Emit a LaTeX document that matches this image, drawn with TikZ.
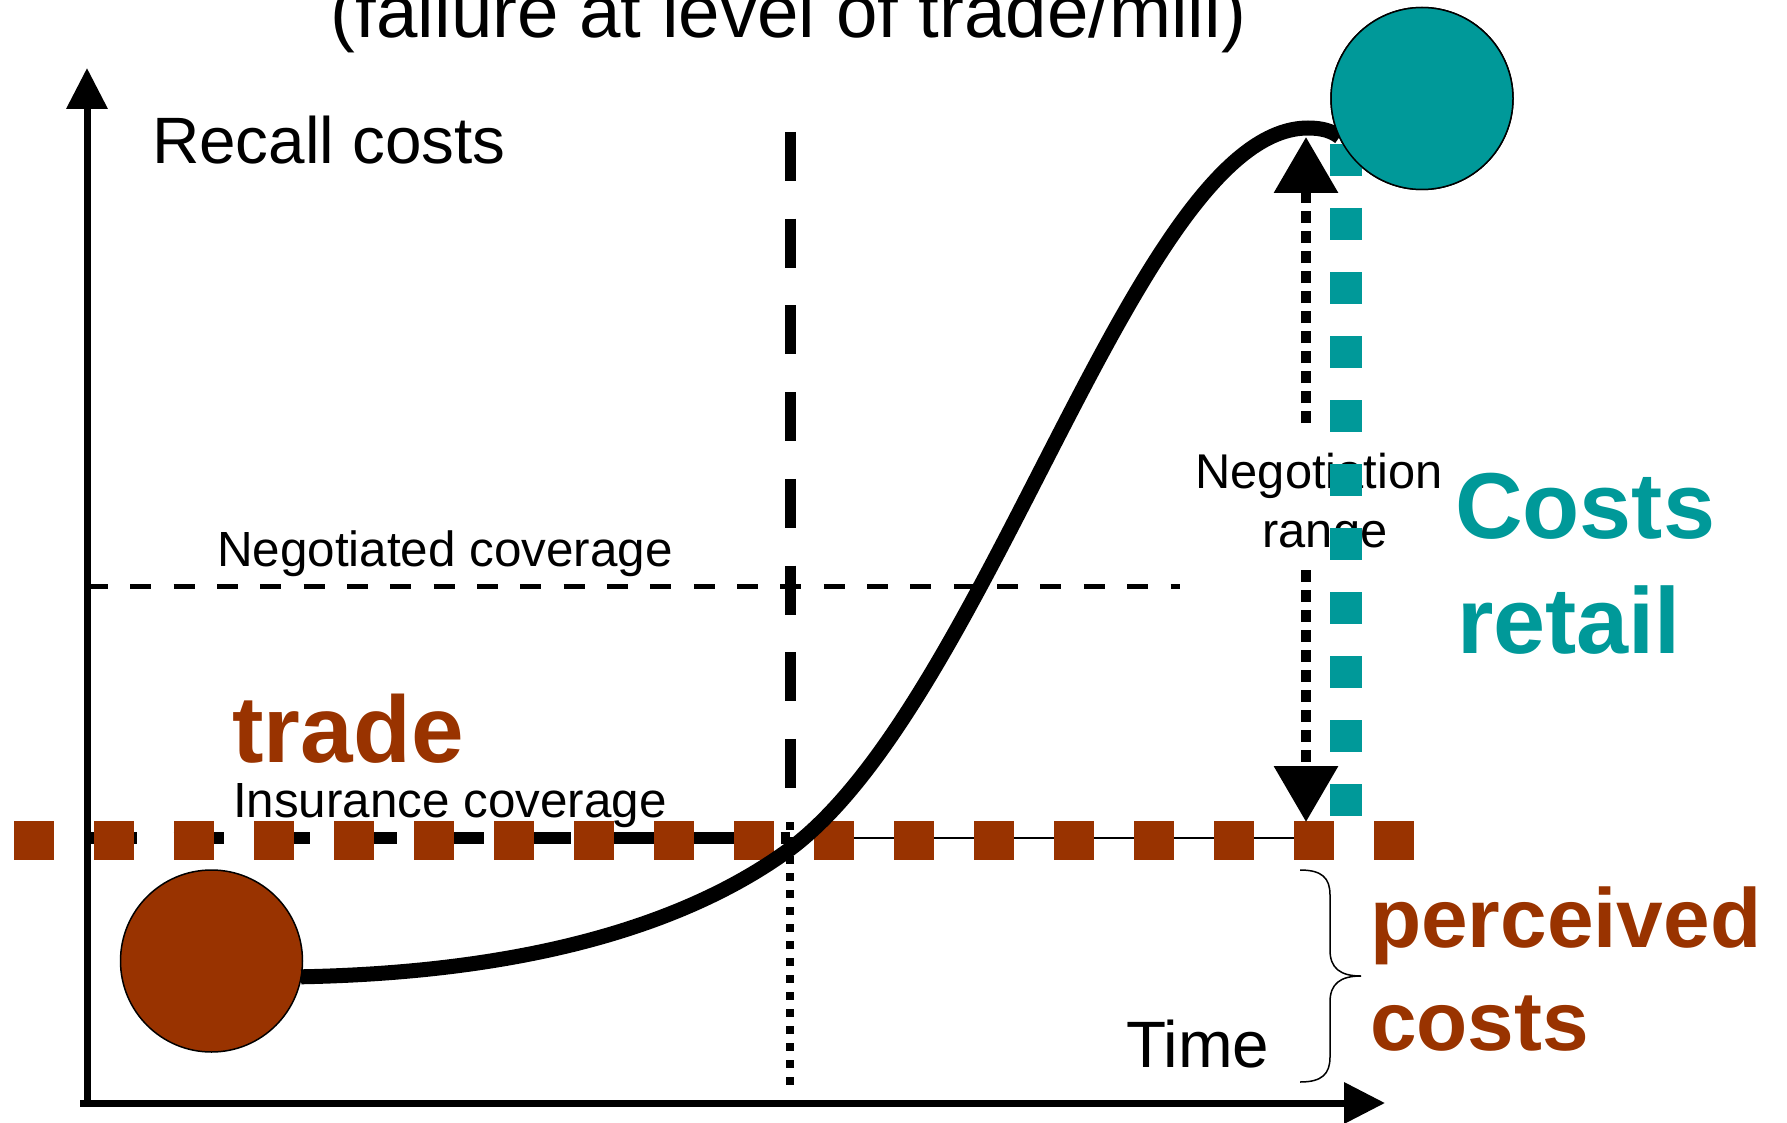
\documentclass[tikz,border=0pt]{standalone}
\usepackage{fontspec}
\setmainfont{Liberation Sans}
\usetikzlibrary{arrows.meta}
\definecolor{brn}{HTML}{993300}
\definecolor{tl}{HTML}{009999}
\begin{document}
\begin{tikzpicture}[x=0.5pt,y=-0.5pt,
  every node/.style={inner sep=0pt,outer sep=0pt},
  txt/.style={anchor=base west,font=\fontsize{24.7}{29}\selectfont},
  bigtxt/.style={anchor=base west,font=\fontsize{32.8}{38}\selectfont},
  axisline/.style={line width=3.5pt,-{Triangle[length=20.5pt,width=20pt]}},
  negarrow/.style={line width=5pt,dash pattern=on 6pt off 4pt,-{Triangle[length=28pt,width=31pt]}},
  dot/.style={circle,draw,line width=0.75pt,minimum size=91pt}]
\useasboundingbox (0,0) rectangle (1787,1123);
\clip (0,0) rectangle (1787,1123);

% title
\node[anchor=base,font=\fontsize{37.25}{44}\selectfont] (title) at (788.5,38) {(failure at level of trade/mill)};

% coordinates
\coordinate (origin) at (87,1103);
\coordinate (ytip) at (87,68);
\coordinate (xtip) at (1385,1103);
\coordinate (ncs) at (87,586);
\coordinate (nce) at (1180,586);
\coordinate (vtop) at (790,132);
\coordinate (vmid) at (790,788);
\coordinate (vdot) at (790,822);
\coordinate (vbot) at (790,1093);
\coordinate (ics) at (87,838);
\coordinate (icm) at (790,838);
\coordinate (ice) at (1306,838);
\coordinate (bls) at (14,840);
\coordinate (ble) at (1414,840);
\coordinate (tls) at (1346,144);
\coordinate (tle) at (1346,816);
\coordinate (nrt1) at (1306,423);
\coordinate (nrt2) at (1306,137);
\coordinate (nrb1) at (1306,570);
\coordinate (nrb2) at (1306,822);

% negotiated coverage
\draw[line width=2.5pt,dash pattern=on 10.5pt off 11.17pt] (ncs) -- (nce);
\node[txt] (negcov) at (217,566) {Negotiated coverage};

% vertical time marker
\draw[line width=5.5pt,dash pattern=on 24.5pt off 18.85pt] (vtop) -- (vmid);
\draw[line width=4pt,dash pattern=on 4pt off 4.5pt] (vdot) -- (vbot);

% insurance coverage lines
\draw[line width=6pt,dash pattern=on 25pt off 18.35pt] (ics) -- (icm);
\draw[line width=1.25pt] (icm) -- (ice);
\draw[brn,line width=19.5pt,dash pattern=on 20pt off 20pt] (bls) -- (ble);

% circles and curve
\node[dot,fill=brn] (bc) at (211.5,961) {};
\node[dot,fill=tl] (tc) at (1422,98.5) {};
\draw[line width=7.5pt] (bc.-10) .. controls (550,972) and (700,915) .. (790,849)
  .. controls (990,699) and (1138,128) .. (1308,128)
  .. controls (1322,128) and (1332,131) .. (tc.205);

% negotiation range
\node[anchor=base,font=\fontsize{24.4}{29}\selectfont] (nr1) at (1319,488) {Negotiation};
\node[anchor=base,font=\fontsize{24.4}{29}\selectfont] (nr2) at (1325,547) {range};
\draw[tl,line width=16pt,dash pattern=on 16pt off 16pt] (tls) -- (tle);
\node[dot,fill=tl] at (tc) {};
\draw[negarrow] (nrt1) -- (nrt2);
\draw[negarrow] (nrb1) -- (nrb2);

% axes
\draw[axisline] (origin) -- (ytip);
\draw[axisline] ([xshift=-3.5pt]origin) -- (xtip);

% texts
\node[bigtxt] (recall) at (152,164) {Recall costs};
\node[bigtxt] (time) at (1126,1067) {Time};
\node[txt] (inscov) at (233,817) {Insurance coverage};
\node[anchor=base west,font=\fontsize{47.25}{56}\selectfont\bfseries,text=brn] (trade) at (232.5,762) {trade};
\node[anchor=base west,font=\fontsize{46.8}{56}\selectfont\bfseries,text=tl] (costs1) at (1455,538) {Costs};
\node[anchor=base west,font=\fontsize{46.8}{56}\selectfont\bfseries,text=tl] (costs2) at (1457,653) {retail};
\node[anchor=base west,font=\fontsize{41.9}{50}\selectfont\bfseries,text=brn] (perc1) at (1370,947) {perceived};
\node[anchor=base west,font=\fontsize{41.9}{50}\selectfont\bfseries,text=brn] (perc2) at (1370,1050) {costs};

% brace
\draw[line width=0.75pt] (1300,870) .. controls (1322,870) and (1330,878) .. (1330,895)
  -- (1330,950) .. controls (1330,968) and (1340,976) .. (1361,976)
  .. controls (1340,976) and (1330,984) .. (1330,1002)
  -- (1330,1057) .. controls (1330,1074) and (1322,1082) .. (1300,1082);
\end{tikzpicture}
\end{document}
